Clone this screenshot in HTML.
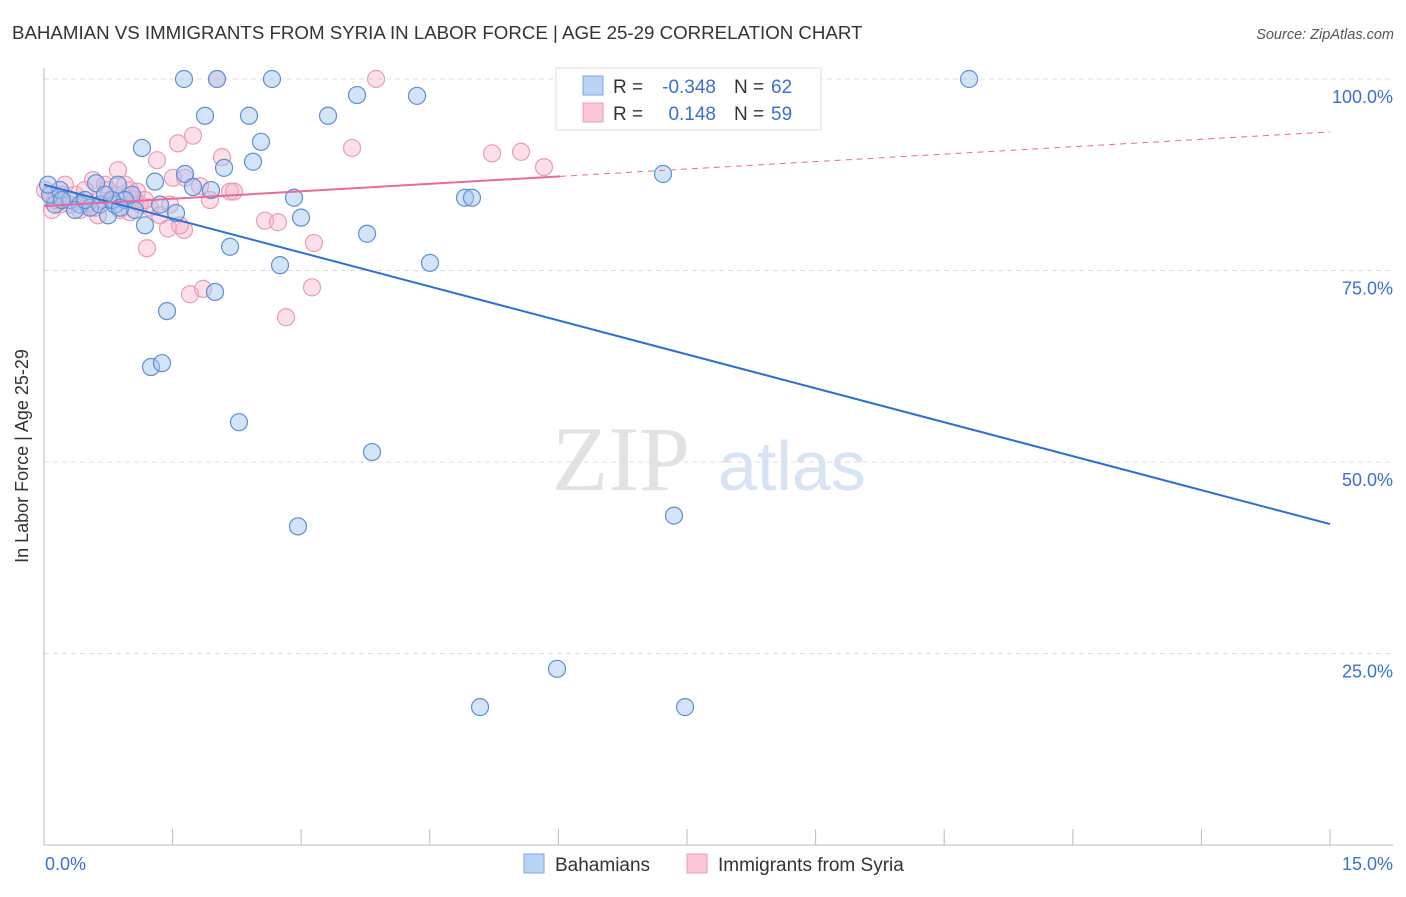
<!DOCTYPE html>
<html><head><meta charset="utf-8"><style>
body{margin:0;background:#fff;font-family:"Liberation Sans",sans-serif;}
svg text{font-family:"Liberation Sans",sans-serif;}
</style></head><body>
<svg id="chart" width="1406" height="892">
<text x="12" y="39" font-size="18.7" fill="#333">BAHAMIAN VS IMMIGRANTS FROM SYRIA IN LABOR FORCE | AGE 25-29 CORRELATION CHART</text>
<text x="1394" y="39" font-size="14.5" fill="#555" font-style="italic" text-anchor="end">Source: ZipAtlas.com</text>
<g>
<text x="690" y="490" font-size="92" fill="#e2e2e2" font-family="Liberation Serif" text-anchor="end" style="font-family:'Liberation Serif',serif">ZIP</text>
<text x="718" y="490" font-size="70" fill="#d6e4f6">atlas</text></g>
<g id="grid"></g>
<g id="axes"></g>
<g id="pts"></g>
<g id="lines"></g>
<text x="28" y="456" font-size="18" fill="#333" text-anchor="middle" transform="rotate(-90 28 456)">In Labor Force | Age 25-29</text>
<g>
<rect x="556" y="68" width="265" height="62" fill="#fff" stroke="#ddd"/>
<rect x="583" y="76" width="20" height="19" fill="#b9d3f5" stroke="#7aa6e3"/>
<rect x="583" y="103" width="20" height="19" fill="#fcc8d7" stroke="#eb9ab3"/>
<text x="613" y="93" font-size="19" fill="#333">R =</text><text x="716" y="93" font-size="19" fill="#3a6fd8" text-anchor="end">-0.348</text>
<text x="734" y="93" font-size="19" fill="#333">N =</text><text x="771" y="93" font-size="19" fill="#3a6fd8">62</text>
<text x="613" y="120" font-size="19" fill="#333">R =</text><text x="716" y="120" font-size="19" fill="#3a6fd8" text-anchor="end">0.148</text>
<text x="734" y="120" font-size="19" fill="#333">N =</text><text x="771" y="120" font-size="19" fill="#3a6fd8">59</text>
</g>
<g>
<rect x="524" y="854" width="20" height="19" fill="#b9d3f5" stroke="#7aa6e3"/>
<text x="555" y="871" font-size="19" fill="#333">Bahamians</text>
<rect x="687" y="854" width="20" height="19" fill="#fcc8d7" stroke="#eb9ab3"/>
<text x="718" y="871" font-size="19" fill="#333">Immigrants from Syria</text>
</g>
</svg>
<script>
const yTicks=[100,75,50,25];
const yTickLabels=["100.0%","75.0%","50.0%","25.0%"];
const xLabels=["0.0%","15.0%"];
const blueX=[1.633,2.018,2.659,10.79,1.878,2.391,3.313,3.651,4.351,2.531,1.143,2.438,2.1,1.645,7.22,1.295,1.738,.607,.863,1.948,2.916,4.911,4.992,1.026,1.353,1.54,2.998,1.178,3.768,2.17,2.753,4.502,1.995,1.435,1.248,1.376,2.274,3.826,2.963,7.348,5.984,5.086,7.477,.128,.07,.187,.303,.42,.537,.653,.747,.828,.945,1.061,.362,.478,.21,.793,.047,.711,.886];
const blueY=[100,100,100,100,95.2,95.2,95.2,97.9,97.8,91.8,91.0,89.2,88.4,87.6,87.6,86.6,85.9,86.4,86.2,85.5,84.5,84.5,84.5,84.9,83.6,82.5,81.9,80.9,79.8,78.1,75.7,76.0,72.2,69.7,62.4,62.9,55.2,51.3,41.6,43.0,23.0,18.0,18.0,83.6,84.9,85.5,84.2,83.6,83.2,83.6,82.2,83.6,84.2,82.9,82.9,84.2,84.2,84.2,86.2,84.9,83.2];
const pinkX=[2.018,3.873,1.738,1.563,3.593,5.226,5.564,5.832,2.076,1.318,.863,1.505,1.645,1.82,1.936,2.17,2.216,2.578,2.729,3.149,1.446,1.633,1.586,1.201,1.703,1.855,3.126,2.823,.572,.711,1.003,1.085,1.236,1.12,.63,.42,.187,.07,.012,.128,.303,.513,.77,.886,.362,.245,.945,.653,.478,.828,1.061,.093,1.353,1.47,.595,1.003,1.178,.21,.747];
const pinkY=[100,100,92.6,91.6,91.0,90.3,90.5,88.5,89.8,89.4,88.1,87.1,87.1,86.0,84.2,85.3,85.3,81.5,81.3,78.6,80.5,80.3,80.9,77.9,71.9,72.6,72.8,68.9,86.8,86.2,85.5,85.3,83.2,83.6,82.2,82.9,83.6,84.9,85.5,84.2,83.6,83.6,84.2,82.9,84.9,86.2,86.2,84.2,85.5,84.9,84.2,82.9,82.2,83.6,83.2,82.6,84.2,84.9,85.5];
const blueTrend=[86.2,41.9];
const pinkTrend=[83.4,93.1];
const pinkSolidEnd=6.02;
const X=v=>44+v/15*1286, Y=v=>845-v/100*766;
const NS="http://www.w3.org/2000/svg";
function mk(p,t,a){const e=document.createElementNS(NS,t);for(const k in a)e.setAttribute(k,a[k]);p.appendChild(e);return e;}
const grid=document.getElementById('grid'),axes=document.getElementById('axes'),pts=document.getElementById('pts'),lines=document.getElementById('lines');
yTicks.forEach((t,i)=>{
 const l=mk(grid,'line',{x1:44,x2:1393,y1:Y(t),y2:Y(t),stroke:'#ddd','stroke-dasharray':'5,4'});
 
 
 const tx=mk(axes,'text',{x:1393,y:Y(t)+24,'font-size':18,fill:'#3a6fd8','text-anchor':'end'});tx.textContent=yTickLabels[i];
 
 
});
mk(axes,'line',{x1:44,x2:44,y1:68,y2:845,stroke:'#bbb'});
mk(axes,'line',{x1:44,x2:1393,y1:845,y2:845,stroke:'#bbb'});
for(let i=0;i<=10;i++){const x=X(i*1.5);mk(axes,'line',{x1:x,x2:x,y1:829,y2:845,stroke:'#bbb'});}
const xl0=mk(axes,'text',{x:45,y:870,'font-size':18,fill:'#3a6fd8'});xl0.textContent=xLabels[0];


const xl1=mk(axes,'text',{x:1393,y:870,'font-size':18,fill:'#3a6fd8','text-anchor':'end'});xl1.textContent=xLabels[1];


pinkX.forEach((x,i)=>{const c=mk(pts,'circle',{cx:X(x),cy:Y(pinkY[i]),r:8.5,fill:'rgba(248,175,200,0.4)',stroke:'#ec9bb5','stroke-width':1.2});
 
 });
blueX.forEach((x,i)=>{const c=mk(pts,'circle',{cx:X(x),cy:Y(blueY[i]),r:8.5,fill:'rgba(160,195,240,0.45)',stroke:'#5b8fd6','stroke-width':1.2});
 
 });
const bl=mk(lines,'line',{x1:X(0),y1:Y(blueTrend[0]),x2:X(15),y2:Y(blueTrend[1]),stroke:'#2a6fd6','stroke-width':2});


const pe=pinkTrend[0]+(pinkTrend[1]-pinkTrend[0])*pinkSolidEnd/15;
const pl=mk(lines,'line',{x1:X(0),y1:Y(pinkTrend[0]),x2:X(pinkSolidEnd),y2:Y(pe),stroke:'#e8699a','stroke-width':2});


const pd=mk(lines,'line',{x1:X(pinkSolidEnd),y1:Y(pe),x2:X(15),y2:Y(pinkTrend[1]),stroke:'#e8699a','stroke-width':1,'stroke-dasharray':'6,5'});


</script>
</body></html>
